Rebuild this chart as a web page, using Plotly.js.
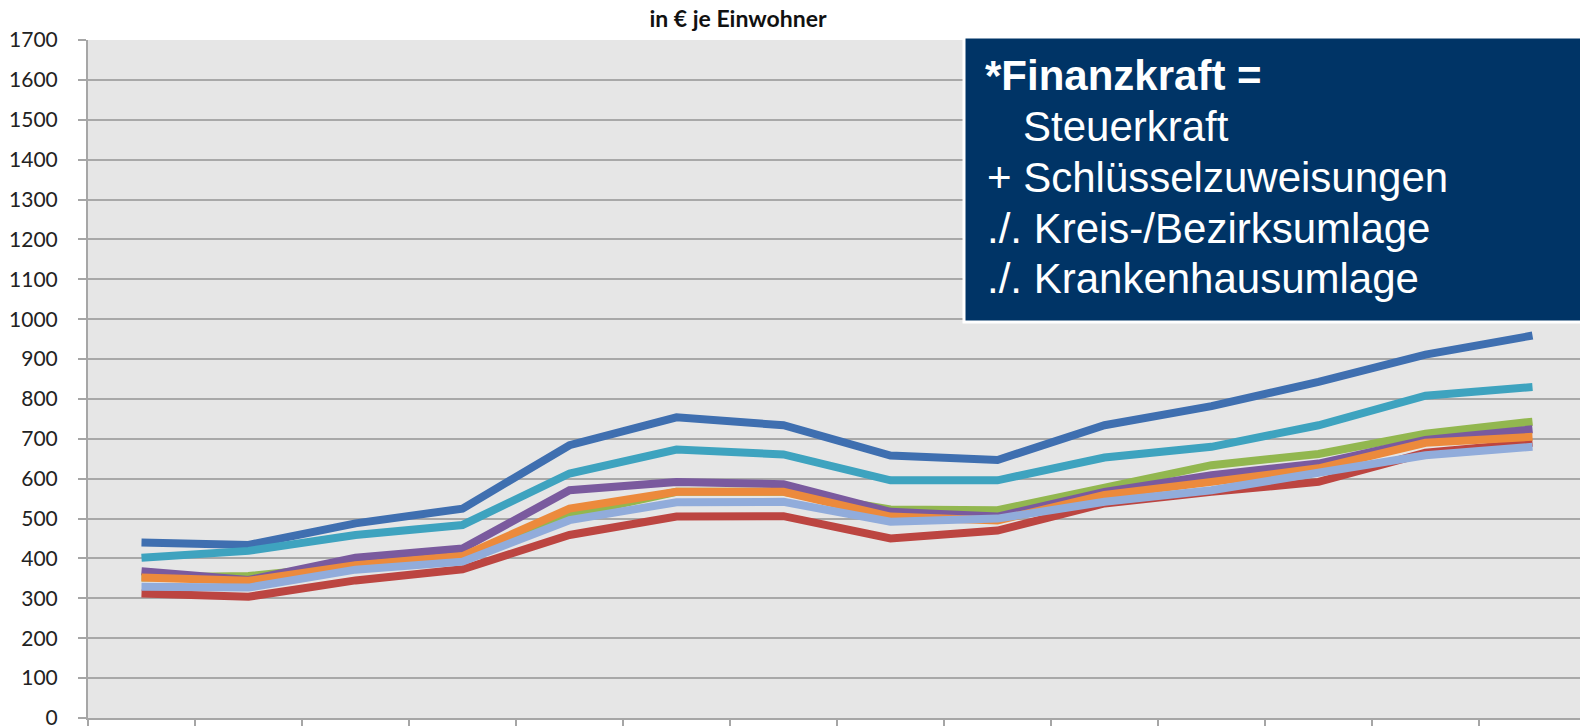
<!DOCTYPE html>
<html>
<head>
<meta charset="utf-8">
<script src="https://cdn.plot.ly/plotly-3.0.1.min.js"></script>
<style>
  html, body { margin: 0; padding: 0; overflow: hidden; background: #ffffff; }
  #chart { width: 1600px; height: 726px; }
</style>
</head>
<body>
<div id="chart"></div>
<script>
// ---- data ----
const categories = ['2000','2001','2002','2003','2004','2005','2006','2007','2008','2009','2010','2011','2012','2013'];
const seriesNames = ['Gruppe 1','Gruppe 2','Gruppe 3','Gruppe 4','Gruppe 5','Gruppe 6','Gruppe 7'];
const blueValues      = [440, 434, 488, 525, 684, 754, 734, 658, 647, 734, 782, 843, 911, 959];
const redValues       = [312, 304, 345, 373, 459, 505, 506, 450, 470, 538, 567, 592, 665, 690];
const greenValues     = [352, 356, 383, 405, 509, 567, 567, 523, 521, 580, 634, 662, 713, 743];
const purpleValues    = [368, 346, 402, 425, 571, 592, 586, 517, 505, 567, 609, 638, 697, 724];
const tealValues      = [402, 419, 459, 484, 613, 673, 661, 596, 596, 653, 680, 734, 808, 830];
const orangeValues    = [352, 344, 383, 406, 525, 567, 567, 505, 495, 559, 592, 626, 690, 705];
const lightBlueValues = [329, 327, 372, 392, 496, 541, 542, 492, 500, 542, 571, 613, 659, 680];
const yTickValues = [0,100,200,300,400,500,600,700,800,900,1000,1100,1200,1300,1400,1500,1600,1700];
const titleText = 'in € je Einwohner';
const boxLines = ['<b>*Finanzkraft =</b>', 'Steuerkraft', '+ Schlüsselzuweisungen', './. Kreis-/Bezirksumlage', './. Krankenhausumlage'];

// ---- styling ----
const seriesData = [blueValues, redValues, greenValues, purpleValues, tealValues, orangeValues, lightBlueValues];
const colors = ['#3f6fb0', '#bc4541', '#92b74f', '#7a5a9e', '#3ea3bf', '#ec8a3c', '#91acdb'];

const traces = seriesData.map((vals, i) => ({
  type: 'scatter',
  mode: 'lines',
  name: seriesNames[i],
  x: categories,
  y: vals,
  line: { color: colors[i], width: 8 },
  hoverinfo: 'x+y+name'
}));

// pixel helpers for the layout-only decorations (plot area: left 88, width 1498, top 40, height 678)
const L = 88, W = 1498, B = 718, H = 678;
const px = x => (x - L) / W;
const py = y => (B - y) / H;

const lineX = [983, 1021, 985, 985, 985];
const lineY = [76, 127, 177.5, 228.5, 278];
const annotations = boxLines.map((t, i) => ({
  xref: 'paper', yref: 'paper',
  x: px(lineX[i]), y: py(lineY[i]),
  xanchor: 'left', yanchor: 'middle',
  text: t, showarrow: false,
  font: { family: 'Liberation Sans, Arial, sans-serif', size: 42, color: '#ffffff' }
}));

const layout = {
  width: 1600, height: 726,
  margin: { l: L, r: 1600 - L - W, t: 40, b: 8, pad: 0 },
  paper_bgcolor: '#ffffff',
  plot_bgcolor: '#e6e6e6',
  showlegend: false,
  title: {
    text: '<b>' + titleText + '</b>',
    xref: 'container', yref: 'container',
    x: 738 / 1600, xanchor: 'center',
    y: 1 - 19 / 726, yanchor: 'middle',
    font: { family: 'Lato, Carlito, sans-serif', size: 23, color: '#111111' }
  },
  xaxis: {
    type: 'category',
    range: [-0.5, 13.5],
    showgrid: false,
    zeroline: false,
    showline: true, linecolor: '#a6a6a6', linewidth: 2,
    ticks: 'outside', tickson: 'boundaries', ticklen: 10, tickcolor: '#a6a6a6', tickwidth: 2,
    showticklabels: false,
    fixedrange: true
  },
  yaxis: {
    range: [0, 1700],
    tickvals: yTickValues,
    ticktext: yTickValues.map(String),
    showgrid: true, gridcolor: '#a8a8a8', gridwidth: 2,
    zeroline: false,
    showline: true, linecolor: '#a6a6a6', linewidth: 2,
    ticks: 'outside', ticklen: 8, tickcolor: '#a6a6a6', tickwidth: 2,
    ticklabelstandoff: 16,
    ticklabeloverflow: 'allow',
    tickfont: { family: 'Lato, Carlito, sans-serif', size: 21, color: '#222222' },
    fixedrange: true
  },
  shapes: [{
    type: 'rect', xref: 'paper', yref: 'paper',
    x0: px(964), x1: px(1610), y0: py(322), y1: py(37),
    fillcolor: '#003466',
    line: { color: '#ffffff', width: 3 },
    layer: 'above'
  }],
  annotations: annotations
};

Plotly.newPlot('chart', traces, layout, { displayModeBar: false, staticPlot: true });
</script>
</body>
</html>
